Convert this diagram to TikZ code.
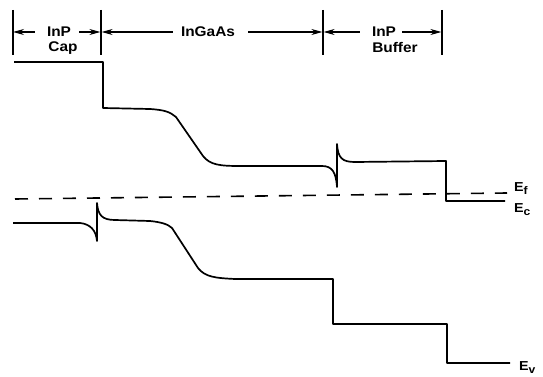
\documentclass[tikz,border=0pt]{standalone}
\usepackage{fontspec}
\setmainfont{Liberation Sans}[FakeStretch=1.1]
\usetikzlibrary{arrows.meta}
\newcommand{\lowsub}[1]{\raisebox{-3.5pt}{\fontsize{11}{12}\selectfont #1}}
\begin{document}
\begin{tikzpicture}[x=1pt,y=-1pt,
  band/.style={line width=1.7pt,line join=round},
  tick/.style={line width=1.2pt},
  dim/.style={line width=1.2pt,-{Stealth[length=11pt,width=6pt]}},
  lbl/.style={font=\fontsize{14}{15}\selectfont\bfseries,inner sep=0pt,anchor=base},
  elbl/.style={font=\fontsize{13}{14}\selectfont\bfseries,inner sep=0pt,anchor=base west},
  fermi/.style={line width=1.6pt,dash pattern=on 13pt off 11pt}]
\useasboundingbox (0,0) rectangle (543,377);
% header ticks
\foreach \x/\n in {13/a,101/b,323/c,442/d}{
  \draw[tick] (\x,10) -- (\x,55);
  \coordinate (t\n) at (\x,32);
}
\node[lbl] (inp1) at (59,37) {InP};
\node[lbl] (cap) at (63,52) {Cap};
\node[lbl] (ingaas) at (208,37) {InGaAs};
\node[lbl] (inp2) at (384,37) {InP};
\node[lbl] (buf) at (395,52.5) {Buffer};
\draw[dim] ([xshift=-12pt]inp1.base west |- ta) -- (ta);
\draw[dim] ([xshift=8pt]inp1.base east |- ta) -- ([xshift=-0.6pt]tb);
\draw[dim] ([xshift=-8pt]ingaas.base west |- tb) -- ([xshift=0.6pt]tb);
\draw[dim] ([xshift=13pt]ingaas.base east |- tc) -- ([xshift=-0.6pt]tc);
\draw[dim] ([xshift=-12pt]inp2.base west |- tc) -- ([xshift=0.6pt]tc);
\draw[dim] ([xshift=6pt]inp2.base east |- td) -- ([xshift=-0.6pt]td);
% conduction band
\draw[band] (14,62) -- (103,62) -- (103,108) -- (150,109)
  .. controls (165,110) and (170,112) .. (176,117) -- (203,156)
  .. controls (210,165) and (220,166) .. (240,166) -- (322,166)
  .. controls (332,166) and (336,172) .. (337,187) -- (337,144)
  .. controls (338,158) and (342,162) .. (355,162) -- (446,161)
  -- (446,201) -- (505,201);
% fermi level
\draw[fermi] (15,199) -- (507,193);
% valence band
\draw[band] (13,223) -- (80,223)
  .. controls (90,224) and (96,230) .. (97,241) -- (97,203)
  .. controls (98,215) and (102,220) .. (115,220) -- (150,221)
  .. controls (160,222) and (168,224) .. (172,228) -- (198,268)
  .. controls (205,277) and (215,278) .. (235,279) -- (333,279)
  -- (333,324) -- (447,324) -- (447,363) -- (510,363);
% labels
\node[elbl] (ef) at (514,191) {E\lowsub{f}};
\node[elbl] (ec) at (514,212) {E\lowsub{c}};
\node[elbl] (ev) at (519,370) {E\lowsub{v}};
\end{tikzpicture}
\end{document}
